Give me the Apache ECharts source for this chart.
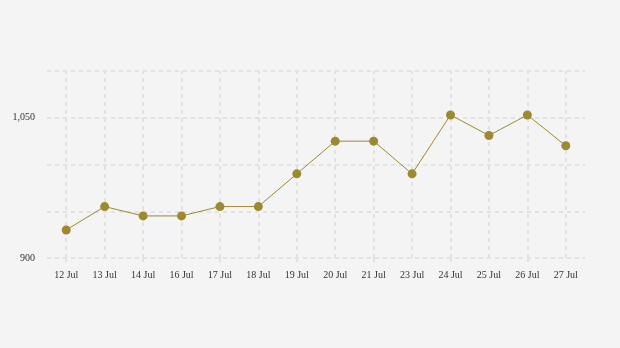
<!DOCTYPE html>
<html><head><meta charset="utf-8">
<script src="https://cdn.jsdelivr.net/npm/echarts@6/dist/echarts.min.js"></script>
<style>html,body{margin:0;padding:0;background:#f4f4f4}#c{width:620px;height:348px}</style>
</head><body><div id="c"></div>
<script>
const categories = ['12 Jul','13 Jul','14 Jul','16 Jul','17 Jul','18 Jul','19 Jul','20 Jul','21 Jul','23 Jul','24 Jul','25 Jul','26 Jul','27 Jul'];
const values = [930, 955, 945, 945, 955, 955, 990, 1025, 1025, 990, 1053, 1031, 1053, 1020];
const yMin = 900, yMax = 1100, yStep = 50;

const gridColor = '#e2e2e2';
const font = '"Liberation Serif", "DejaVu Serif", serif';
const chart = echarts.init(document.getElementById('c'));
chart.setOption({
  backgroundColor: '#f4f4f4',
  animation: false,
  grid: {left: 47, right: 35, top: 71, bottom: 90},
  xAxis: [{
    type: 'category', data: categories, boundaryGap: true,
    axisLine: {show: false},
    axisTick: {show: true, alignWithLabel: true, inside: true, length: 187,
      lineStyle: {color: gridColor, width: 2, type: [4, 4]}},
    axisLabel: {color: '#333', fontFamily: font, fontSize: 10, margin: 12},
    splitLine: {show: false}
  }, {
    type: 'category', data: categories, boundaryGap: true, position: 'bottom',
    axisLine: {show: false},
    axisTick: {show: true, alignWithLabel: true, length: 4,
      lineStyle: {color: gridColor, width: 2}},
    axisLabel: {show: false}, splitLine: {show: false}
  }],
  yAxis: {
    type: 'value', min: yMin, max: yMax, interval: yStep,
    axisLine: {show: false}, axisTick: {show: false},
    axisLabel: {color: '#333', fontFamily: font, fontSize: 10, margin: 12,
      formatter: v => (v === 900 || v === 1050) ? v.toLocaleString('en-US') : ''},
    splitLine: {lineStyle: {color: gridColor, width: 2, type: [4, 4]}}
  },
  series: [{
    type: 'line', data: values,
    symbol: 'circle', symbolSize: 9,
    itemStyle: {color: '#9d8a30'},
    lineStyle: {color: '#9d8a30', width: 1}
  }]
});
</script></body></html>
